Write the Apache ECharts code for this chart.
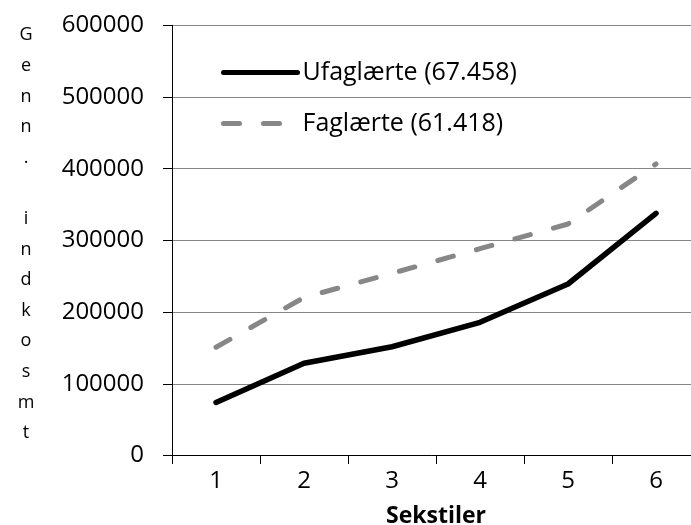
<!DOCTYPE html>
<html>
<head>
<meta charset="utf-8">
<script src="https://cdn.jsdelivr.net/npm/echarts@6/dist/echarts.min.js"></script>
<style>
  html, body { margin: 0; padding: 0; background: #fff; overflow: hidden; }
  #chart { width: 691px; height: 525px; }
</style>
</head>
<body>
<div id="chart"></div>
<script>
// Sextiles of income
const categories = ['1', '2', '3', '4', '5', '6'];
// Average income per sextile
const ufaglaerte = [74000, 128600, 151700, 185800, 239200, 337800];
const faglaerte = [151000, 220400, 254100, 288400, 322900, 406600];
const seriesNames = ['Ufaglærte (67.458)', 'Faglærte (61.418)'];
const yTitleLetters = ['G', 'e', 'n', 'n', '.', ' ', 'i', 'n', 'd', 'k', 'o', 's', 'm', 't'];

const FONT = "'Open Sans', 'Liberation Sans', sans-serif";

const chart = echarts.init(document.getElementById('chart'), null, { renderer: 'canvas' });

chart.setOption({
  animation: false,
  backgroundColor: '#ffffff',
  textStyle: { fontFamily: FONT, color: '#000' },
  title: {
    text: yTitleLetters.join('\n'),
    left: 21,
    top: 15,
    textAlign: 'center',
    textStyle: {
      fontFamily: FONT,
      fontSize: 18,
      fontWeight: 'normal',
      lineHeight: 30.6,
      color: '#000'
    }
  },
  // the plot area runs a little past the right edge of the canvas
  grid: {
    left: 172,
    width: 528,
    top: 25.3,
    bottom: 69.5,
    containLabel: false,
    outerBoundsMode: 'none'
  },
  legend: {
    orient: 'vertical',
    left: 216,
    top: 55,
    itemWidth: 74,
    itemHeight: 14,
    itemGap: 26,
    data: seriesNames,
    itemStyle: { opacity: 0 },
    lineStyle: { width: 5, cap: 'round' },
    textStyle: {
      fontFamily: FONT,
      fontSize: 25,
      color: '#000'
    }
  },
  xAxis: {
    type: 'category',
    data: categories,
    boundaryGap: true,
    name: 'Sekstiler',
    nameLocation: 'middle',
    nameGap: 49,
    nameTextStyle: {
      fontFamily: FONT,
      fontSize: 23,
      fontWeight: 'bold',
      color: '#000'
    },
    axisLine: { show: true, lineStyle: { color: '#000', width: 1 } },
    axisTick: { show: true, length: 8.5, interval: 0, lineStyle: { color: '#000' } },
    axisLabel: { fontFamily: FONT, fontSize: 24, color: '#000', margin: 14 },
    splitLine: { show: false }
  },
  yAxis: {
    type: 'value',
    min: 0,
    max: 600000,
    interval: 100000,
    axisLine: { show: true, lineStyle: { color: '#000', width: 1 } },
    axisTick: { show: true, length: 9, lineStyle: { color: '#000' } },
    axisLabel: {
      fontFamily: FONT,
      fontSize: 24,
      color: '#000',
      margin: 28,
      formatter: (v) => String(v)
    },
    splitLine: { show: true, lineStyle: { color: '#868686', width: 1 } }
  },
  series: [
    {
      name: seriesNames[0],
      type: 'line',
      data: ufaglaerte,
      symbol: 'none',
      lineStyle: { color: '#000000', width: 5.5, cap: 'round', join: 'round' },
      itemStyle: { color: '#000000' }
    },
    {
      name: seriesNames[1],
      type: 'line',
      data: faglaerte,
      symbol: 'none',
      lineStyle: { color: '#878787', width: 5, type: [16, 24], cap: 'round', join: 'round' },
      itemStyle: { color: '#878787' }
    }
  ]
});
</script>
</body>
</html>
